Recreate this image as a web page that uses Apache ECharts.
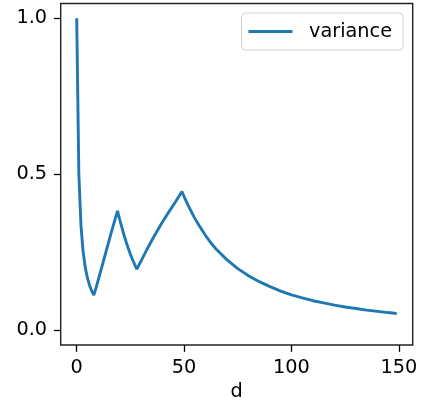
<!DOCTYPE html>
<html>
<head>
<meta charset="utf-8">
<script src="https://cdn.jsdelivr.net/npm/echarts@6/dist/echarts.min.js"></script>
<style>html,body{margin:0;padding:0;background:#fff}#c{width:427px;height:402px}</style>
</head>
<body>
<div id="c"></div>
<script>
// Data
const dValues = [0,1,2,3,4,5,6,7,8,9,10,11,12,13,14,15,16,17,18,19,20,21,22,23,24,25,26,27,28,30,32,34,36,38,40,42,44,46,48,49,50,52,55,57,60,63,65,70,75,80,85,90,95,100,105,110,115,120,125,130,135,140,145,149];
const variance = [1.0,0.5,0.333,0.25,0.2,0.167,0.143,0.125,0.112,0.135,0.16,0.185,0.21,0.235,0.26,0.285,0.31,0.335,0.358,0.382,0.355,0.33,0.305,0.283,0.262,0.243,0.226,0.21,0.195,0.222,0.249,0.275,0.3,0.324,0.347,0.369,0.39,0.411,0.433,0.444,0.428,0.398,0.358,0.335,0.303,0.275,0.259,0.225,0.197,0.174,0.155,0.139,0.125,0.113,0.103,0.094,0.087,0.08,0.074,0.069,0.064,0.06,0.056,0.053];
const xTicks = [0,50,100,150];
const yTicks = [0,0.5,1.0];
const seriesName = 'variance';
const xName = 'd';

const pts = dValues.map((d,i)=>[d, variance[i]]);
const font = 'DejaVu Sans';
const fs = 19.3;
const chart = echarts.init(document.getElementById('c'), null, {renderer:'canvas'});
chart.setOption({
  animation:false,
  backgroundColor:'#fff',
  grid:{left:60.7, right:14.3, top:3.5, bottom:57, outerBoundsMode:'none', containLabel:false, show:true, borderColor:'#222', borderWidth:1.4, backgroundColor:'transparent'},
  legend:{
    data:[seriesName], right:24, top:13, orient:'horizontal',
    icon:'rect', padding:[9,11,9,7], itemWidth:44, itemHeight:2.9,
    borderColor:'#d0d0d0', borderWidth:1, borderRadius:4, backgroundColor:'#fff',
    textStyle:{fontFamily:font, fontSize:fs, color:'#000', padding:[0,0,0,11.5]}
  },
  xAxis:{
    type:'value', min:-7.45, max:156.45,
    name:xName, nameLocation:'middle', nameGap:36,
    nameTextStyle:{fontFamily:font, fontSize:fs, color:'#000'},
    splitLine:{show:false}, axisLine:{show:false, onZero:false},
    axisTick:{show:true, customValues:xTicks, length:6.8, inside:false, lineStyle:{color:'#000', width:1.3}},
    axisLabel:{customValues:xTicks, fontFamily:font, fontSize:fs, color:'#000', margin:13.6, formatter:v=>String(v)}
  },
  yAxis:{
    type:'value', min:-0.048, max:1.047,
    splitLine:{show:false}, axisLine:{show:false, onZero:false},
    axisTick:{show:true, customValues:yTicks, length:6.8, lineStyle:{color:'#000', width:1.3}},
    axisLabel:{customValues:yTicks, fontFamily:font, fontSize:fs, color:'#000', margin:13.6, formatter:v=>v.toFixed(1)}
  },
  series:[{
    name:seriesName, type:'line', data:pts, symbol:'none', smooth:false,
    lineStyle:{color:'#1f77b4', width:2.9}, itemStyle:{color:'#1f77b4'}
  }]
});
</script>
</body>
</html>
